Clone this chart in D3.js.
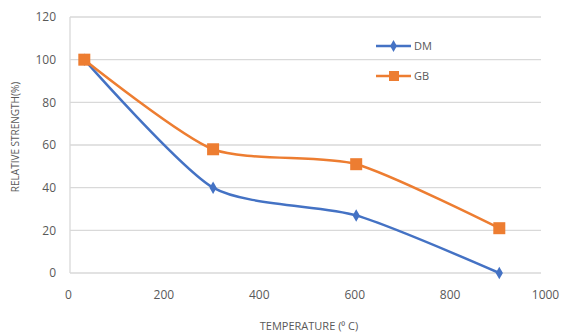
<!DOCTYPE html>
<html>
<head>
<meta charset="utf-8">
<script src="https://cdn.jsdelivr.net/npm/d3@7"></script>
<style>
  body { margin: 0; background: #fff; }
  text { font-family: "Open Sans", "Liberation Sans", sans-serif; }
</style>
</head>
<body>
<svg id="chart"></svg>
<script>
// data
const temps = [30, 300, 600, 900];
const dmValues = [100, 40, 27, 0];
const gbValues = [100, 58, 51, 21];
const seriesNames = ["DM", "GB"];
const xTicks = [0, 200, 400, 600, 800, 1000];
const yTicks = [0, 20, 40, 60, 80, 100, 120];

const width = 570, height = 334;
const colors = {DM: "#4472C4", GB: "#ED7D31"};

const svg = d3.select("#chart").attr("width", width).attr("height", height);

const x = d3.scaleLinear().domain([0, 1000]).range([70, 547]);
const y = d3.scaleLinear().domain([0, 120]).range([273, 17]);

// gridlines
svg.append("g").selectAll("line").data(yTicks).join("line")
  .attr("x1", 70).attr("x2", 541)
  .attr("y1", d => y(d)).attr("y2", d => y(d))
  .attr("stroke", "#d9d9d9").attr("stroke-width", 1.3);

// left axis line
svg.append("line")
  .attr("x1", 70).attr("x2", 70).attr("y1", y(120)).attr("y2", y(0))
  .attr("stroke", "#d9d9d9").attr("stroke-width", 1.3);

// tick labels
const yAxis = d3.axisLeft(y).tickValues(yTicks).tickSize(0).tickPadding(14);
svg.append("g").attr("transform", "translate(70,0)").call(yAxis)
  .call(g => g.select(".domain").remove())
  .selectAll("text").attr("fill", "#595959").style("font-size", "12px");

const xAxis = d3.axisBottom(x).tickValues(xTicks).tickFormat(d3.format("d"))
  .tickSize(0).tickPadding(17);
svg.append("g").attr("transform", "translate(-2," + y(0) + ")").call(xAxis)
  .call(g => g.select(".domain").remove())
  .selectAll("text").attr("fill", "#595959").style("font-size", "12px");

// axis titles
svg.append("text")
  .attr("x", 309).attr("y", 330)
  .attr("text-anchor", "middle")
  .attr("fill", "#595959").style("font-size", "11px")
  .text("TEMPERATURE (⁰ C)");

svg.append("text")
  .attr("transform", "translate(19,137) rotate(-90)")
  .attr("text-anchor", "middle")
  .attr("fill", "#595959").style("font-size", "10px")
  .text("RELATIVE STRENGTH(%)");

// lines
const line = d3.line()
  .x((d, i) => x(temps[i]))
  .y(d => y(d))
  .curve(d3.curveCardinal.tension(0.3));

// DM series
svg.append("path")
  .datum(dmValues)
  .attr("d", line)
  .attr("fill", "none")
  .attr("stroke", colors.DM)
  .attr("stroke-width", 2.5);

svg.append("g").selectAll("path").data(dmValues).join("path")
  .attr("d", d3.symbol(d3.symbolDiamond, 45))
  .attr("transform", (d, i) => `translate(${x(temps[i])},${y(d)})`)
  .attr("fill", colors.DM);

// GB series (on top)
svg.append("path")
  .datum(gbValues)
  .attr("d", line)
  .attr("fill", "none")
  .attr("stroke", colors.GB)
  .attr("stroke-width", 2.5);

svg.append("g").selectAll("rect").data(gbValues).join("rect")
  .attr("x", (d, i) => x(temps[i]) - 6)
  .attr("y", d => y(d) - 6)
  .attr("width", 12).attr("height", 12)
  .attr("fill", colors.GB);

// legend
const legend = svg.append("g");
seriesNames.forEach((name, i) => {
  const ly = 46 + i * 30;
  legend.append("line")
    .attr("x1", 376).attr("x2", 411).attr("y1", ly).attr("y2", ly)
    .attr("stroke", colors[name]).attr("stroke-width", 2.5);
  if (name === "DM") {
    legend.append("path")
      .attr("d", d3.symbol(d3.symbolDiamond, 40))
      .attr("transform", `translate(393.5,${ly})`)
      .attr("fill", colors[name]);
  } else {
    legend.append("rect")
      .attr("x", 389).attr("y", ly - 5).attr("width", 10).attr("height", 10)
      .attr("fill", colors[name]);
  }
  legend.append("text")
    .attr("x", 414).attr("y", ly + 4)
    .attr("fill", "#595959").style("font-size", "11px")
    .text(name);
});
</script>
</body>
</html>
